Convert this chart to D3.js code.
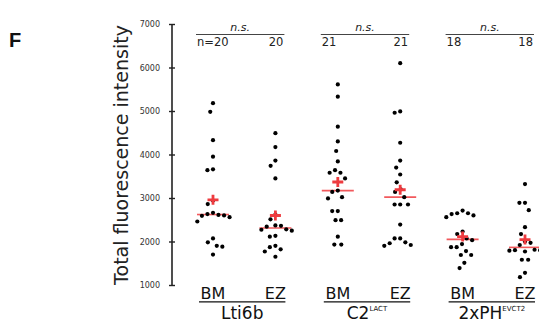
<!DOCTYPE html>
<html>
<head>
<meta charset="utf-8">
<script src="https://cdn.jsdelivr.net/npm/d3@7"></script>
<style>
  html, body { margin: 0; padding: 0; background: #fff; }
  svg { display: block; }
</style>
</head>
<body>
<svg id="chart" width="539" height="323"></svg>
<script>
// Total fluorescence intensity per cell, basal meristem (BM) vs elongation zone (EZ)
const conditions = ["BM", "EZ"];
const constructs = ["Lti6b", "C2", "2xPH"];
const constructSup = ["", "LACT", "EVCT2"];
const significance = ["n.s.", "n.s.", "n.s."];
const sampleSizes = [[20, 20], [21, 21], [18, 18]];
const yTicks = [1000, 2000, 3000, 4000, 5000, 6000, 7000];

const lti6bBM = [5180, 4980, 4330, 3950, 3660, 3640, 2940, 2860, 2660, 2630, 2610, 2600, 2590, 2560, 2460, 2070, 1980, 1900, 1880, 1700];
const lti6bEZ = [4490, 4170, 3860, 3740, 3450, 2620, 2510, 2370, 2360, 2340, 2280, 2270, 2250, 2130, 2110, 1900, 1870, 1820, 1770, 1650];
const c2BM    = [5610, 5330, 4640, 4300, 4080, 3840, 3640, 3580, 3580, 3450, 3170, 3140, 3020, 2990, 2700, 2700, 2490, 2490, 2110, 1930, 1930];
const c2EZ    = [6100, 4990, 4960, 4270, 3860, 3700, 3540, 3360, 3200, 3140, 3020, 2850, 2850, 2850, 2390, 2070, 2070, 1980, 1960, 1920, 1900];
const phBM    = [2710, 2650, 2650, 2630, 2600, 2560, 2230, 2170, 2070, 2030, 1940, 1870, 1870, 1780, 1690, 1690, 1510, 1390];
const phEZ    = [3320, 2890, 2890, 2720, 2330, 2170, 2000, 1970, 1920, 1810, 1800, 1800, 1790, 1770, 1580, 1580, 1280, 1180];

const seriesValues = [lti6bBM, lti6bEZ, c2BM, c2EZ, phBM, phEZ];
const groupKeys = constructs.flatMap(c => conditions.map(k => c + "|" + k));

const svg = d3.select("#chart");
const RED = "#ee3b3f";
const RED_LINE = "#f2595c";

const y = d3.scaleLinear().domain([1000, 7000]).range([285, 24]);
const x = d3.scalePoint().domain(groupKeys).range([213, 525]);

// Panel letter
svg.append("text")
  .attr("x", 9).attr("y", 47)
  .attr("font-family", "Liberation Sans, Arial, sans-serif")
  .attr("font-weight", "bold").attr("font-size", 20)
  .attr("fill", "#111")
  .text("F");

// Y axis title
svg.append("text")
  .attr("transform", "translate(128,155) rotate(-90)")
  .attr("text-anchor", "middle")
  .attr("font-family", "DejaVu Sans, sans-serif")
  .attr("font-size", 19)
  .attr("fill", "#222")
  .text("Total fluorescence intensity");

// Y axis with ticks crossing the spine
const yAxis = d3.axisLeft(y).tickValues(yTicks).tickSize(3).tickPadding(9).tickFormat(d3.format("d"));
const ax = svg.append("g").attr("transform", "translate(172,0)").call(yAxis);
ax.select(".domain").attr("d", `M0,${y(7000)}V${y(1000)}`).attr("stroke", "#222").attr("stroke-width", 1.6);
ax.selectAll(".tick line").attr("x1", -3).attr("x2", 3).attr("stroke", "#222").attr("stroke-width", 1.4);
ax.selectAll(".tick text")
  .attr("font-family", "DejaVu Sans, sans-serif")
  .attr("font-size", 8)
  .attr("fill", "#333");

// Beeswarm placement with an elliptical keep-out zone, so that dots close
// in value are spread sideways
function swarm(values, cx, W, H) {
  const pts = values.map(v => ({ v, y: y(v) })).sort((a, b) => a.y - b.y);
  const placed = [];
  for (const p of pts) {
    const blocks = [];
    for (const q of placed) {
      const dy = Math.abs(q.y - p.y);
      if (dy < H) {
        const dx = W * Math.sqrt(1 - (dy / H) * (dy / H));
        blocks.push([q.x - dx, q.x + dx]);
      }
    }
    const cands = [cx, ...blocks.flat()].sort((a, b) => Math.abs(a - cx) - Math.abs(b - cx));
    p.x = cands.find(c => blocks.every(([a, b]) => c <= a + 1e-6 || c >= b - 1e-6));
    placed.push(p);
  }
  return pts;
}

seriesValues.forEach((vals, i) => {
  const cx = x(groupKeys[i]);
  const g = svg.append("g");
  const med = d3.median(vals);
  const mean = d3.mean(vals);

  // median line
  g.append("line")
    .attr("x1", cx - 16).attr("x2", cx + 16)
    .attr("y1", y(med)).attr("y2", y(med))
    .attr("stroke", RED_LINE).attr("stroke-width", 1.6);

  // points
  g.selectAll("circle").data(swarm(vals, cx, 5.6, 10)).join("circle")
    .attr("cx", d => d.x).attr("cy", d => d.y)
    .attr("r", 2.1).attr("fill", "#000");

  // mean cross
  const my = y(mean);
  g.append("path")
    .attr("d", `M${cx - 5.5},${my}H${cx + 5.5}M${cx},${my - 5}V${my + 5}`)
    .attr("stroke", RED).attr("stroke-width", 2.8).attr("fill", "none");
});

// Per-construct annotations: significance bar, sample sizes, category labels
constructs.forEach((c, j) => {
  const xb = x(c + "|BM"), xe = x(c + "|EZ");
  const left = xb - 17, right = xe + 9;
  const mid = (left + right) / 2;

  svg.append("line")
    .attr("x1", left).attr("x2", right).attr("y1", 34.5).attr("y2", 34.5)
    .attr("stroke", "#444").attr("stroke-width", 1.2);
  svg.append("text")
    .attr("x", mid).attr("y", 30.5).attr("text-anchor", "middle")
    .attr("font-family", "DejaVu Sans, sans-serif").attr("font-style", "italic")
    .attr("font-size", 11).attr("fill", "#222")
    .text(significance[j]);
  svg.append("text")
    .attr("x", left + 1).attr("y", 46).attr("text-anchor", "start")
    .attr("font-family", "DejaVu Sans, sans-serif").attr("font-size", 11.5).attr("fill", "#222")
    .text(j === 0 ? "n=" + sampleSizes[j][0] : String(sampleSizes[j][0]));
  svg.append("text")
    .attr("x", right - 1).attr("y", 46).attr("text-anchor", "end")
    .attr("font-family", "DejaVu Sans, sans-serif").attr("font-size", 11.5).attr("fill", "#222")
    .text(String(sampleSizes[j][1]));

  // condition labels
  conditions.forEach(k => {
    svg.append("text")
      .attr("x", x(c + "|" + k)).attr("y", 298.5).attr("text-anchor", "middle")
      .attr("font-family", "DejaVu Sans, sans-serif").attr("font-size", 16).attr("fill", "#111")
      .text(k);
  });
  const ul0 = xb - 14, ul1 = xe + 10;
  svg.append("line")
    .attr("x1", ul0).attr("x2", ul1).attr("y1", 301.8).attr("y2", 301.8)
    .attr("stroke", "#111").attr("stroke-width", 1.3);

  const t = svg.append("text")
    .attr("x", (ul0 + ul1) / 2).attr("y", 318.5).attr("text-anchor", "middle")
    .attr("font-family", "DejaVu Sans, sans-serif").attr("font-size", 17).attr("fill", "#111");
  t.append("tspan").text(c);
  if (constructSup[j]) {
    t.append("tspan").attr("font-size", 7).attr("dy", -7.5).text(constructSup[j]);
  }
});
</script>
</body>
</html>
